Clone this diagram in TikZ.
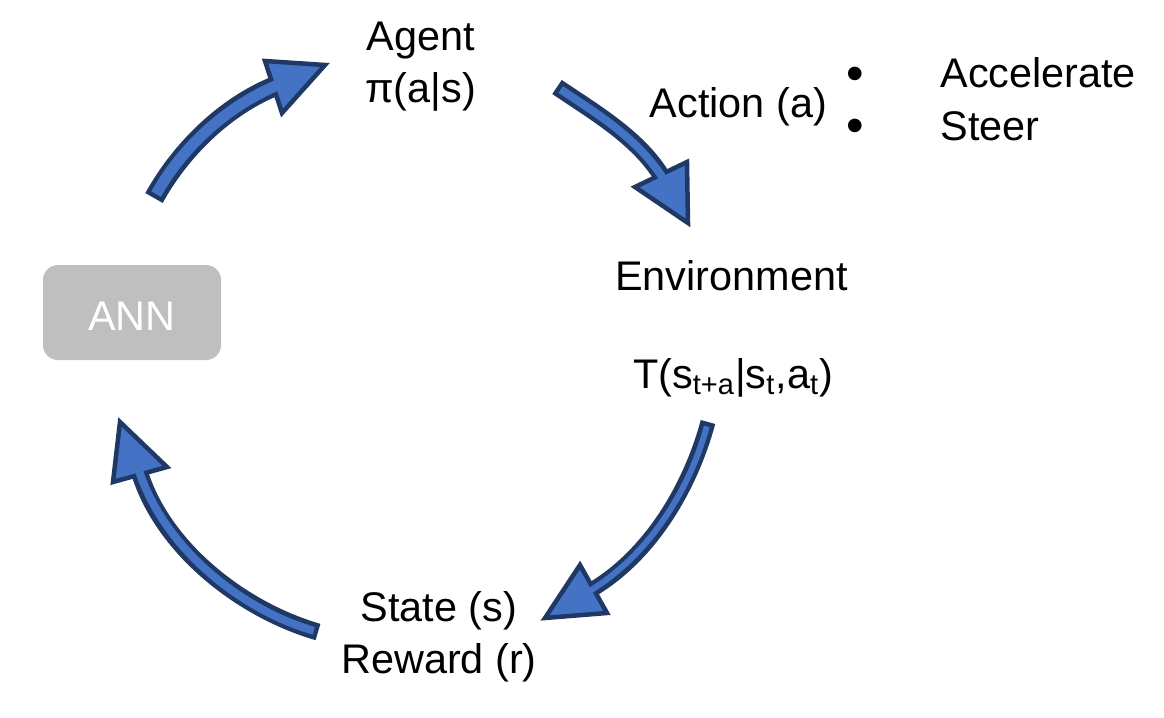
\documentclass[tikz,border=0pt]{standalone}
\usepackage{fontspec}
\setmainfont{Liberation Sans}
\usepackage{tikz}
\usetikzlibrary{arrows.meta}

\definecolor{arrowblue}{HTML}{4472C4}
\definecolor{arrowdark}{HTML}{1F3864}
\definecolor{anngray}{HTML}{BFBFBF}

\tikzset{
    lbl/.style={font=\fontsize{20.7}{26}\selectfont, inner sep=0pt, anchor=base},
    dot/.style={font=\fontsize{25}{26}\selectfont, inner sep=0pt, anchor=base},
    annbox/.style={fill=anngray, rounded corners=7.5pt, minimum width=89pt, minimum height=47.5pt,
        text=white, text height=18pt, font=\fontsize{20.7}{26}\selectfont, inner sep=0pt},
    shaftout/.style={draw=arrowdark, line cap=butt},
    shaftin/.style={draw=arrowblue, line cap=butt, shorten <=2.25pt, shorten >=-2.5pt},
    arrowhead/.style={fill=arrowblue, draw=arrowdark, line width=2.25pt, line join=miter}
}

\begin{document}
\begin{tikzpicture}[x=0.5pt, y=-0.5pt]
    \useasboundingbox (0,0) rectangle (1164,718);

    % labels
    \node[lbl, align=center] (agent) at (420.5,102) {Agent\\π(a|s)};
    \node[lbl] (action) at (738.5,117) {Action (a)};
    \node[dot] (b1) at (855,90) {•};
    \node[dot] (b2) at (855,142) {•};
    \node[lbl, anchor=base west] (accel) at (940,87.7) {Accelerate};
    \node[lbl, anchor=base west] (steer) at (940,140) {Steer};
    \node[lbl] (env) at (731.5,290) {Environment};
    \node[lbl] (trans) at (733,388) {T(s\textsubscript{t+a}|s\textsubscript{t},a\textsubscript{t})};
    \node[lbl, align=center] (state) at (439,673) {State (s)\\Reward (r)};
    \node[annbox] (ann) at (132,312.5) {ANN};

    % arrow ANN -> agent
    \coordinate (a1t) at (154,198);
    \coordinate (a1b) at (273,87);
    \coordinate (a1l) at (265,61);
    \coordinate (a1p) at (325,65);
    \coordinate (a1r) at (282,113);
    \draw[shaftout, line width=10pt] (a1t) .. controls (180,151) and (223,108) .. (a1b);
    \draw[arrowhead] (a1l) -- (a1p) -- (a1r) -- cycle;
    \draw[shaftin, line width=5.5pt] (a1t) .. controls (180,151) and (223,108) .. (a1b);

    % arrow agent -> environment
    \coordinate (a2t) at (557,87);
    \coordinate (a2b) at (661,175);
    \coordinate (a2l) at (635,187);
    \coordinate (a2p) at (688,223);
    \coordinate (a2r) at (687,162);
    \draw[shaftout, line width=8.5pt] (a2t) .. controls (594,112) and (637,137) .. (a2b);
    \draw[arrowhead] (a2l) -- (a2p) -- (a2r) -- cycle;
    \draw[shaftin, line width=4pt] (a2t) .. controls (594,112) and (637,137) .. (a2b);

    % arrow environment -> state
    \coordinate (a3t) at (708,422);
    \coordinate (a3b) at (593,589);
    \coordinate (a3l) at (580,565);
    \coordinate (a3p) at (545,618);
    \coordinate (a3r) at (607,613);
    \draw[shaftout, line width=7.5pt] (a3t) .. controls (690.5,487) and (651,554) .. (a3b);
    \draw[arrowhead] (a3l) -- (a3p) -- (a3r) -- cycle;
    \draw[shaftin, line width=3pt] (a3t) .. controls (690.5,487) and (651,554) .. (a3b);

    % arrow state -> ANN
    \coordinate (a4t) at (318,632);
    \coordinate (a4b) at (140,474);
    \coordinate (a4l) at (167,467);
    \coordinate (a4p) at (120,422);
    \coordinate (a4r) at (113,482);
    \draw[shaftout, line width=8.5pt] (a4t) .. controls (242,610) and (164,549) .. (a4b);
    \draw[arrowhead] (a4l) -- (a4p) -- (a4r) -- cycle;
    \draw[shaftin, line width=4pt] (a4t) .. controls (242,610) and (164,549) .. (a4b);
\end{tikzpicture}
\end{document}
